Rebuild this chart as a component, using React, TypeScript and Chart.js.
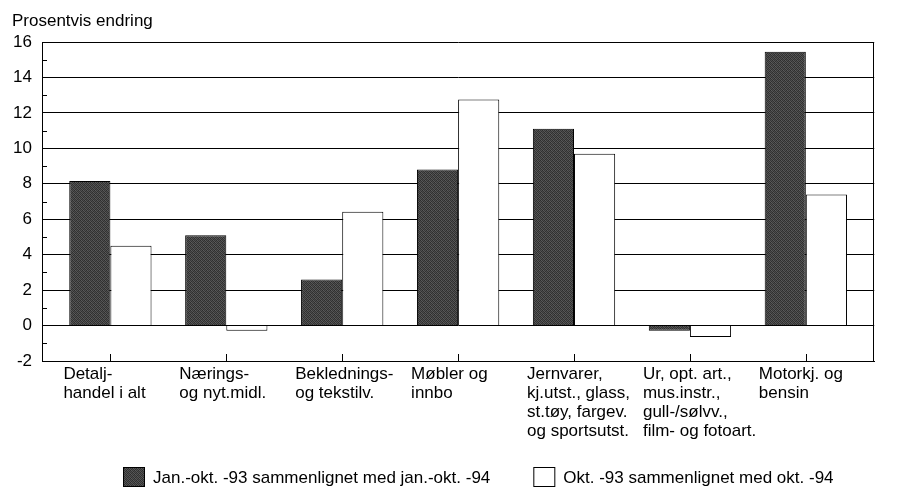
import React, { useEffect, useRef } from "react";
import { Chart, registerables } from "chart.js";

Chart.register(...registerables);

const categories: string[][] = [
  ["Detalj-", "handel i alt"],
  ["Nærings-", "og nyt.midl."],
  ["Beklednings-", "og tekstilv."],
  ["Møbler og", "innbo"],
  ["Jernvarer,", "kj.utst., glass,", "st.tøy, fargev.", "og sportsutst."],
  ["Ur, opt. art.,", "mus.instr.,", "gull-/sølvv.,", "film- og fotoart."],
  ["Motorkj. og", "bensin"],
];

const seriesJanOkt: number[] = [8.15, 5.1, 2.6, 8.8, 11.1, -0.3, 15.45];
const seriesOkt: number[] = [4.5, -0.3, 6.42, 12.75, 9.7, -0.65, 7.4];

const seriesLabels = [
  "Jan.-okt. -93 sammenlignet med jan.-okt. -94",
  "Okt. -93 sammenlignet med okt. -94",
];

const yMin = -2;
const yMax = 16;
const yStep = 2;
const yAxisTitle = "Prosentvis endring";

const FONT = "'Liberation Sans', Arial, Helvetica, sans-serif";
const FONT_SIZE = 17;

function makeDarkPattern(): CanvasPattern | string {
  const c = document.createElement("canvas");
  c.width = 4;
  c.height = 4;
  const g = c.getContext("2d");
  if (!g) return "#404040";
  const shades = [
    ["#2e2e2e", "#5a5a5a", "#363636", "#4e4e4e"],
    ["#4c4c4c", "#333333", "#585858", "#2f2f2f"],
    ["#383838", "#525252", "#2c2c2c", "#5c5c5c"],
    ["#565656", "#303030", "#4a4a4a", "#353535"],
  ];
  for (let y = 0; y < 4; y++) {
    for (let x = 0; x < 4; x++) {
      g.fillStyle = shades[y][x];
      g.fillRect(x, y, 1, 1);
    }
  }
  const p = g.createPattern(c, "repeat");
  return p || "#404040";
}

const decorations = {
  id: "decorations",
  afterDatasetsDraw(chart: any) {
    const { ctx, chartArea, scales } = chart;
    ctx.save();
    ctx.strokeStyle = "#000";
    ctx.lineWidth = 1;
    ctx.beginPath();
    const rx = Math.round(chartArea.right) - 0.5;
    ctx.moveTo(rx, chartArea.top);
    ctx.lineTo(rx, chartArea.bottom);
    categories.forEach((_, i) => {
      const x = Math.round(scales.x.getPixelForValue(i)) + 0.5;
      ctx.moveTo(x, chartArea.bottom);
      ctx.lineTo(x, chartArea.bottom - 7);
    });
    for (let v = yMin + yStep / 2; v < yMax; v += yStep) {
      const y = Math.round(scales.y.getPixelForValue(v)) + 0.5;
      ctx.moveTo(chartArea.left, y);
      ctx.lineTo(chartArea.left + 5, y);
    }
    ctx.stroke();
    ctx.restore();
  },
};

const customLegend = {
  id: "customLegend",
  afterDraw(chart: any) {
    const { ctx, chartArea, data } = chart;
    const boxW = 22;
    const boxH = 20;
    const gapText = 8;
    const gapItems = 43;
    ctx.save();
    ctx.font = `${FONT_SIZE}px ${FONT}`;
    ctx.textBaseline = "alphabetic";
    ctx.textAlign = "left";
    let x = chartArea.left + 81;
    const boxTop = chart.height - 23;
    const baseline = chart.height - 7;
    data.datasets.forEach((ds: any) => {
      ctx.fillStyle = ds.backgroundColor;
      ctx.fillRect(x, boxTop, boxW, boxH);
      ctx.strokeStyle = "#000";
      ctx.lineWidth = 1;
      ctx.strokeRect(x + 0.5, boxTop + 0.5, boxW - 1, boxH - 1);
      ctx.fillStyle = "#000";
      ctx.fillText(ds.label, x + boxW + gapText, baseline);
      x += boxW + gapText + ctx.measureText(ds.label).width + gapItems;
    });
    ctx.restore();
  },
};

export default function App() {
  const canvasRef = useRef<HTMLCanvasElement | null>(null);

  useEffect(() => {
    if (!canvasRef.current) return;
    Chart.defaults.font.family = FONT;
    Chart.defaults.color = "#000";
    const dark = makeDarkPattern();
    const chart = new Chart(canvasRef.current, {
      type: "bar",
      data: {
        datasets: [
          {
            label: seriesLabels[0],
            data: seriesJanOkt.map((v, i) => ({ x: i, y: v })),
            backgroundColor: dark,
            borderColor: "#000",
            borderWidth: 1,
          },
          {
            label: seriesLabels[1],
            data: seriesOkt.map((v, i) => ({ x: i, y: v })),
            backgroundColor: "#ffffff",
            borderColor: "#000",
            borderWidth: 1,
          },
        ],
      },
      options: {
        responsive: true,
        maintainAspectRatio: false,
        animation: false,
        categoryPercentage: 0.71,
        barPercentage: 1,
        layout: { padding: { left: 4, right: 1, top: 0, bottom: 49 } },
        plugins: {
          title: {
            display: true,
            text: yAxisTitle,
            align: "start",
            color: "#000",
            font: { size: FONT_SIZE, weight: "normal", family: FONT, lineHeight: 1.2 },
            padding: { top: 3, bottom: 10.6 },
          },
          legend: { display: false },
          tooltip: { enabled: false },
        },
        scales: {
          x: {
            type: "linear",
            min: -0.59,
            max: categories.length - 1 + 0.59,
            offset: false,
            grid: { display: false, drawTicks: false },
            border: { display: true, color: "#000", width: 1 },
            afterBuildTicks: (scale: any) => {
              scale.ticks = categories.map((_, i) => ({ value: i }));
            },
            afterFit: (scale: any) => {
              scale.height = 80;
            },
            ticks: {
              autoSkip: false,
              maxRotation: 0,
              minRotation: 0,
              align: "start",
              labelOffset: -47,
              padding: 4,
              color: "#000",
              font: { size: FONT_SIZE, family: FONT, lineHeight: 1.12 },
              callback: (_v: any, index: number) => categories[index],
            },
          },
          y: {
            min: yMin,
            max: yMax,
            grid: { color: "#000", lineWidth: 1, drawTicks: false },
            border: { display: true, color: "#000", width: 1 },
            afterFit: (scale: any) => {
              scale.width = 30;
            },
            ticks: {
              stepSize: yStep,
              padding: 10,
              color: "#000",
              font: { size: FONT_SIZE, family: FONT },
            },
          },
        },
      },
      plugins: [decorations, customLegend],
    } as any);
    return () => chart.destroy();
  }, []);

  return (
    <div style={{ position: "fixed", left: 8, top: 8, width: 886, height: 482 }}>
      <canvas ref={canvasRef} />
    </div>
  );
}
